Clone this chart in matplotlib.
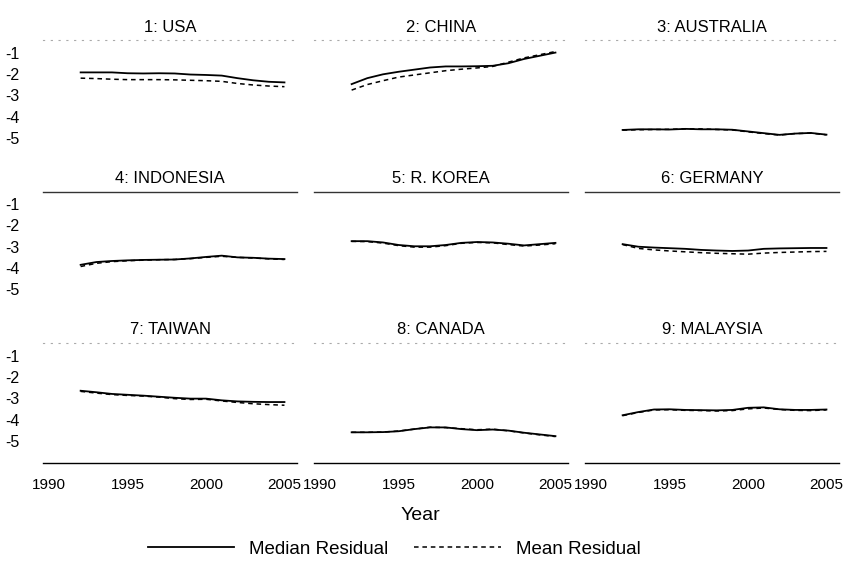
import matplotlib.pyplot as plt
import numpy as np

plt.rcParams['font.family'] = ['Liberation Sans', 'DejaVu Sans']

years = np.arange(1992, 2006)

countries = ['1: USA', '2: CHINA', '3: AUSTRALIA',
             '4: INDONESIA', '5: R. KOREA', '6: GERMANY',
             '7: TAIWAN', '8: CANADA', '9: MALAYSIA']

# median residual per country, 1992-2005
median_usa = [-1.93, -1.93, -1.93, -1.97, -1.98, -1.97, -1.98, -2.03, -2.05, -2.08, -2.2, -2.3, -2.37, -2.4]
median_china = [-2.48, -2.2, -2.02, -1.9, -1.8, -1.7, -1.65, -1.65, -1.64, -1.62, -1.5, -1.3, -1.15, -1.0]
median_australia = [-4.63, -4.6, -4.6, -4.61, -4.58, -4.6, -4.6, -4.62, -4.7, -4.78, -4.86, -4.8, -4.77, -4.85]
median_indonesia = [-3.85, -3.72, -3.67, -3.64, -3.62, -3.61, -3.6, -3.55, -3.48, -3.42, -3.5, -3.52, -3.56, -3.58]
median_korea = [-2.74, -2.74, -2.8, -2.92, -2.98, -2.98, -2.92, -2.82, -2.78, -2.8, -2.86, -2.94, -2.88, -2.82]
median_germany = [-2.88, -3.0, -3.04, -3.07, -3.1, -3.15, -3.18, -3.2, -3.18, -3.1, -3.08, -3.07, -3.06, -3.06]
median_taiwan = [-2.65, -2.72, -2.8, -2.84, -2.88, -2.93, -2.98, -3.02, -3.02, -3.1, -3.15, -3.17, -3.18, -3.18]
median_canada = [-4.6, -4.6, -4.59, -4.55, -4.45, -4.37, -4.37, -4.45, -4.5, -4.47, -4.52, -4.62, -4.7, -4.78]
median_malaysia = [-3.8, -3.65, -3.53, -3.52, -3.55, -3.56, -3.57, -3.55, -3.45, -3.43, -3.52, -3.55, -3.55, -3.53]

# mean residual per country, 1992-2005
mean_usa = [-2.2, -2.22, -2.25, -2.27, -2.27, -2.27, -2.28, -2.3, -2.32, -2.35, -2.45, -2.52, -2.57, -2.6]
mean_china = [-2.76, -2.5, -2.32, -2.15, -2.05, -1.95, -1.85, -1.78, -1.72, -1.65, -1.45, -1.25, -1.1, -0.95]
mean_australia = [-4.64, -4.62, -4.61, -4.6, -4.58, -4.58, -4.61, -4.63, -4.72, -4.8, -4.87, -4.8, -4.78, -4.86]
mean_indonesia = [-3.93, -3.78, -3.7, -3.66, -3.63, -3.61, -3.6, -3.56, -3.5, -3.45, -3.5, -3.53, -3.57, -3.6]
mean_korea = [-2.75, -2.76, -2.83, -2.95, -3.02, -3.02, -2.95, -2.84, -2.8, -2.82, -2.9, -2.97, -2.92, -2.86]
mean_germany = [-2.9, -3.08, -3.15, -3.2, -3.24, -3.28, -3.31, -3.33, -3.35, -3.3, -3.27, -3.25, -3.23, -3.22]
mean_taiwan = [-2.68, -2.76, -2.83, -2.87, -2.9, -2.95, -3.02, -3.06, -3.05, -3.13, -3.2, -3.26, -3.3, -3.33]
mean_canada = [-4.6, -4.6, -4.59, -4.54, -4.45, -4.36, -4.38, -4.43, -4.48, -4.45, -4.53, -4.63, -4.72, -4.8]
mean_malaysia = [-3.82, -3.67, -3.55, -3.54, -3.57, -3.58, -3.6, -3.58, -3.5, -3.46, -3.53, -3.57, -3.58, -3.55]

medians = [median_usa, median_china, median_australia, median_indonesia, median_korea,
           median_germany, median_taiwan, median_canada, median_malaysia]
means = [mean_usa, mean_china, mean_australia, mean_indonesia, mean_korea,
         mean_germany, mean_taiwan, mean_canada, mean_malaysia]

yticks = [-1, -2, -3, -4, -5]
xticks = [1990, 1995, 2000, 2005]

W, H = 844, 561
fig = plt.figure(figsize=(W / 100, H / 100), dpi=100)

col_left = [43, 314, 585]
row_top = [40, 191.5, 343]
pw, ph = 254, 120

for i in range(9):
    r, c = divmod(i, 3)
    ax = fig.add_axes([col_left[c] / W, 1 - (row_top[r] + ph) / H, pw / W, ph / H])
    ax.plot(years, medians[i], color='black', lw=1.3, label='Median Residual')
    ax.plot(years, means[i], color='black', lw=1.1, ls=(0, (3, 2.5)), label='Mean Residual')
    ax.set_xlim(1989.6, 2005.8)
    ax.set_ylim(-6.04, -0.41)
    for s in ax.spines.values():
        s.set_visible(False)
    ax.text(0.5, 1 + 13 / ph, countries[i], transform=ax.transAxes,
            ha='center', va='center', fontsize=12)
    # line under the panel titles: solid in the middle row, faint elsewhere
    ax.spines['top'].set_visible(True)
    if r == 1:
        ax.spines['top'].set_color('#333333')
        ax.spines['top'].set_linewidth(1.0)
    else:
        ax.spines['top'].set_color('#aaaaaa')
        ax.spines['top'].set_linewidth(0.8)
        ax.spines['top'].set_linestyle((0, (1, 6)))
    if r == 2:
        ax.spines['bottom'].set_visible(True)
        ax.spines['bottom'].set_color('black')
        ax.spines['bottom'].set_linewidth(1.0)
        ax.set_xticks(xticks)
        ax.tick_params(axis='x', length=0, pad=11, labelsize=11)
    else:
        ax.set_xticks([])
    if c == 0:
        ax.set_yticks(yticks)
        ax.set_yticklabels([str(v) for v in yticks])
        ax.tick_params(axis='y', length=0, pad=17, labelsize=11.5)
    else:
        ax.set_yticks([])
    if i == 0:
        handles, labels = ax.get_legend_handles_labels()

fig.text(420 / W, 1 - 515 / H, 'Year', ha='center', va='center', fontsize=14)
fig.legend(handles, labels, loc='center', bbox_to_anchor=(394 / W, 1 - 549 / H),
           ncol=2, frameon=False, fontsize=13.5, handlelength=4.6,
           columnspacing=1.4, handletextpad=0.8)

fig.savefig('out.png', dpi=100)
